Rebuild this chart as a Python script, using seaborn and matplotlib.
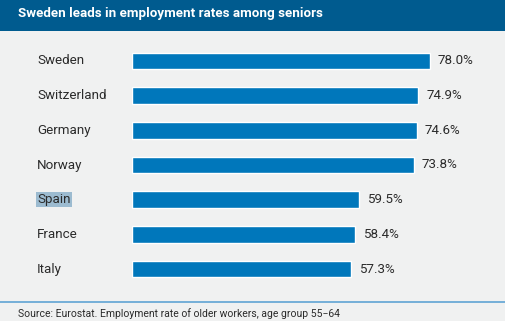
import matplotlib
matplotlib.use("Agg")
import matplotlib.pyplot as plt
import matplotlib.transforms as mtransforms
import seaborn as sns
import pandas as pd
from matplotlib.patches import Rectangle
from matplotlib.lines import Line2D

countries = ["Sweden", "Switzerland", "Germany", "Norway", "Spain", "France", "Italy"]
rates = [78.0, 74.9, 74.6, 73.8, 59.5, 58.4, 57.3]
value_labels = ["78.0%", "74.9%", "74.6%", "73.8%", "59.5%", "58.4%", "57.3%"]

title = "Sweden leads in employment rates among seniors"
source = "Source: Eurostat. Employment rate of older workers, age group 55\u221264"

sns.set_theme(style="white")
plt.rcParams["font.family"] = ["Roboto", "DejaVu Sans"]

BG = "#f0f1f1"
BAR = "#0077bb"
HEADER = "#005b8f"
TEXT = "#2b2b2b"

W, H = 505, 321
fig = plt.figure(figsize=(W / 100, H / 100), dpi=100, facecolor=BG)

# header band
fig.patches.append(Rectangle((0, 1 - 31 / H), 1, 31 / H, transform=fig.transFigure,
                             facecolor=HEADER, edgecolor="none", zorder=0))
fig.text(18 / W, 1 - 13.5 / H, title, color="white", fontsize=9.6, fontweight="bold",
         va="center", ha="left")

# footer rule and source
fig.lines.append(Line2D([0, 1], [1 - 302 / H, 1 - 302 / H], transform=fig.transFigure,
                        color="#6aaad6", lw=1.3))
fig.text(18 / W, 1 - 314 / H, source, color=TEXT, fontsize=7.5, va="center", ha="left")

ax_left, ax_right = 132, 505
ax_top, ax_bottom = 43.6, 286.4
ax = fig.add_axes([ax_left / W, 1 - ax_bottom / H, (ax_right - ax_left) / W,
                   (ax_bottom - ax_top) / H])
ax.set_facecolor(BG)

df = pd.DataFrame({"country": countries, "rate": rates})
sns.barplot(data=df, x="rate", y="country", color=BAR, saturation=1, width=0.48, ax=ax)

ax.set_xlim(0, (ax_right - ax_left) / 3.82)
ax.set_ylim(len(countries) - 0.5, -0.5)
for s in ax.spines.values():
    s.set_visible(False)
ax.set_xticks([])
ax.set_yticks([])
ax.set_xlabel("")
ax.set_ylabel("")

label_tf = mtransforms.blended_transform_factory(fig.transFigure, ax.transData)
for i, (c, v, lab) in enumerate(zip(countries, rates, value_labels)):
    ax.annotate(lab, xy=(v, i), xytext=(5.8, 0), textcoords="offset points",
                va="center", ha="left", fontsize=9.6, color=TEXT)
    kw = {}
    if c == "Spain":
        kw["bbox"] = dict(boxstyle="square,pad=0.08", facecolor="#9cbbd0", edgecolor="none")
    fig.text(37 / W, i, c, transform=label_tf, va="center", ha="left", fontsize=9.6,
             color=TEXT, **kw)

fig.savefig("out.png", dpi=100, facecolor=BG)
